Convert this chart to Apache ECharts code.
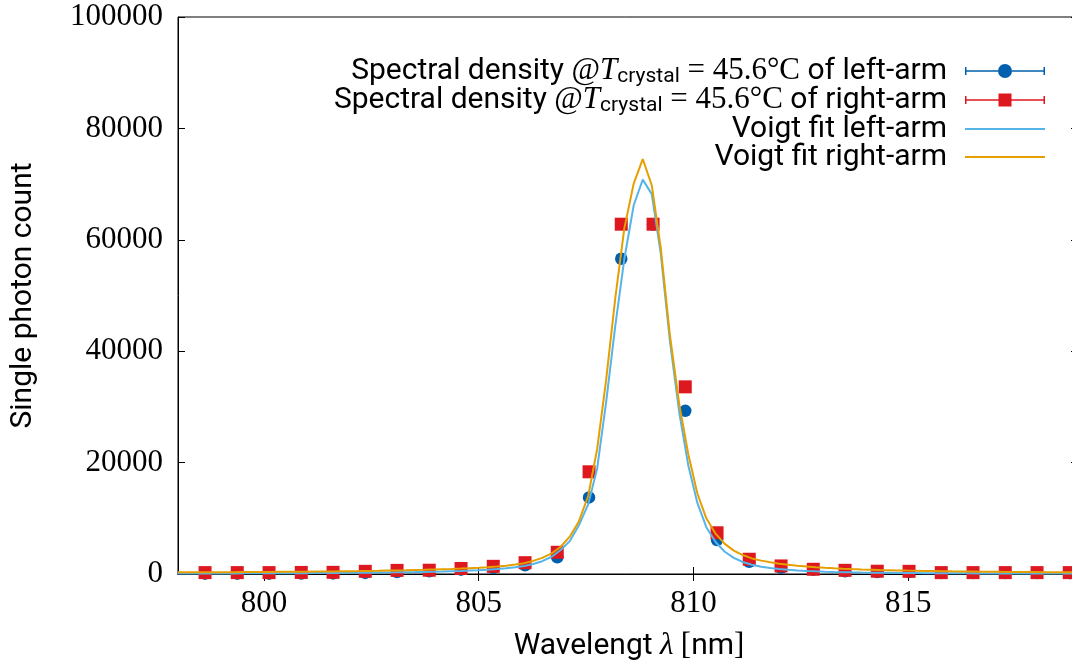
<!DOCTYPE html>
<html><head><meta charset="utf-8">
<script src="https://cdn.jsdelivr.net/npm/echarts@6/dist/echarts.min.js"></script>
<style>html,body{margin:0;padding:0;background:#fff}#c{width:1072px;height:671px}</style>
</head><body><div id="c"></div>
<script>
// measured data points (wavelength in nm)
const wavelength = [798.63,799.38,800.12,800.87,801.61,802.36,803.10,803.85,804.59,805.34,806.08,806.83,807.57,808.32,809.06,809.81,810.55,811.30,812.04,812.79,813.53,814.28,815.02,815.77,816.51,817.26,818.00,818.75];
const leftArm  = [60,60,60,80,100,200,350,480,780,1080,1560,3000,13750,56600,62750,29300,6100,2200,1130,780,480,360,360,180,180,180,180,180];
const rightArm = [250,250,250,280,300,480,650,680,990,1380,2030,3900,18350,62800,62800,33600,7400,2650,1450,850,660,500,480,250,250,250,250,250];
// Voigt fit curves as drawn (sampled)
const fitWavelength = [798.00,798.21,798.42,798.64,798.85,799.06,799.27,799.48,799.70,799.91,800.12,800.33,800.55,800.76,800.97,801.18,801.39,801.61,801.82,802.03,802.24,802.45,802.67,802.88,803.09,803.30,803.52,803.73,803.94,804.15,804.36,804.58,804.79,805.00,805.21,805.42,805.64,805.85,806.06,806.27,806.48,806.70,806.91,807.12,807.33,807.55,807.76,807.97,808.18,808.39,808.61,808.82,809.03,809.24,809.45,809.67,809.88,810.09,810.30,810.52,810.73,810.94,811.15,811.36,811.58,811.79,812.00,812.21,812.42,812.64,812.85,813.06,813.27,813.48,813.70,813.91,814.12,814.33,814.55,814.76,814.97,815.18,815.39,815.61,815.82,816.03,816.24,816.45,816.67,816.88,817.09,817.30,817.52,817.73,817.94,818.15,818.36,818.58,818.79,819.00];
const fitLeft = [90,92,95,98,100,105,110,115,120,125,130,135,140,150,155,165,175,185,195,210,225,240,255,275,295,320,345,375,410,450,500,550,610,680,770,880,1020,1200,1450,1800,2300,3100,4300,5900,8700,12500,19000,31000,44500,56500,66200,70800,68200,57500,42000,29000,19500,12800,8400,5700,4000,2900,2150,1650,1300,1070,890,750,640,550,480,420,375,335,300,270,245,225,205,190,175,165,155,145,137,130,123,117,111,106,101,97,93,90,87,84,81,78,76,74];
const fitRight = [300,305,310,315,320,330,335,345,355,365,375,385,395,410,420,435,450,470,490,510,530,555,580,610,640,670,710,750,800,850,900,970,1050,1130,1230,1350,1500,1700,1950,2350,2900,3700,4900,6700,9400,14000,22500,35000,49500,62000,70100,74500,69800,58500,43000,30500,21500,14500,10000,7200,5400,4200,3400,2800,2400,2100,1850,1650,1500,1350,1230,1130,1040,960,890,830,780,730,690,650,615,585,555,530,505,480,460,440,420,405,390,375,360,350,340,330,320,310,300,295];
const xTickValues = [800,805,810,815];
const seriesNames = ['leftData','rightData','leftFit','rightFit'];

const SANS = 'Roboto';
const SERIF = 'Liberation Serif';
const C_BLUE = '#0060ad', C_RED = '#dd181f', C_SKY = '#56b4e9', C_ORANGE = '#e69f00';

const zip = (a, b) => a.map((v, i) => [v, b[i]]);

const rich = {
  s: {fontFamily: SANS, fontSize: 30, color: '#000', lineHeight: 32},
  m: {fontFamily: SERIF, fontSize: 31, color: '#000', lineHeight: 32},
  i: {fontFamily: SERIF, fontStyle: 'italic', fontSize: 31, color: '#000', lineHeight: 32},
  sub: {fontFamily: SANS, fontSize: 21, color: '#000', lineHeight: 17, verticalAlign: 'bottom'},
  gap: {width: 13, lineHeight: 32}
};
const labels = {
  leftData: '{s|Spectral density }{m|@}{i|T}{sub|crystal}{m| = 45.6°C}{s| of left-arm}{gap|}',
  rightData: '{s|Spectral density }{m|@}{i|T}{sub|crystal}{m| = 45.6°C}{s| of right-arm}{gap|}',
  leftFit: '{s|Voigt fit left-arm}{gap|}',
  rightFit: '{s|Voigt fit right-arm}{gap|}'
};
const circIcon = 'path://M0 3H1.5V11H0Z M78.5 3H80V11H78.5Z M0 6.25H33V7.75H0Z M47 6.25H80V7.75H47Z M33 7A7 7 0 1 1 47 7A7 7 0 1 1 33 7Z';
const rectIcon = 'path://M0 3H1.5V11H0Z M78.5 3H80V11H78.5Z M0 6.25H33.5V7.75H0Z M46.5 6.25H80V7.75H46.5Z M33.5 0.5H46.5V13.5H33.5Z';
const lineIcon = 'path://M0 0H80V2H0Z';
const rowCenters = [71, 100, 129, 157];
const legendIcons = [circIcon, rectIcon, lineIcon, lineIcon];
const legendH = [14, 13, 2, 2];

const legends = seriesNames.map((n, i) => ({
  right: 27, top: rowCenters[i] - 16, padding: 0, orient: 'vertical', align: 'right',
  itemWidth: 80, itemHeight: legendH[i], selectedMode: false,
  data: [{name: n, icon: legendIcons[i]}],
  formatter: name => labels[name],
  textStyle: {rich: rich, lineHeight: 32}
}));

const chart = echarts.init(document.getElementById('c'), null, {renderer: 'canvas'});
chart.setOption({
  animation: false,
  backgroundColor: '#fff',
  legend: legends,
  grid: {left: 178, top: 17, width: 902, height: 557, outerBoundsMode: 'none', containLabel: false, show: true, borderColor: '#000', borderWidth: 1, backgroundColor: 'transparent'},
  xAxis: [{
    type: 'value', min: 798, max: 819, position: 'bottom',
    axisLine: {show: true, onZero: false, lineStyle: {color: '#000', width: 1}},
    axisTick: {show: true, inside: true, length: 7, customValues: xTickValues, lineStyle: {color: '#000'}},
    axisLabel: {customValues: xTickValues, formatter: v => String(v), fontFamily: SERIF, fontSize: 31, color: '#000', margin: 14},
    splitLine: {show: false},
    name: '{s|Wavelengt }{i|λ}{s| }{m|[}{s|nm}{m|]}', nameLocation: 'middle', nameGap: 56,
    nameTextStyle: {rich: rich}
  }, {
    type: 'value', min: 798, max: 819, position: 'top',
    axisLine: {show: true, lineStyle: {color: '#000'}},
    axisTick: {show: true, inside: true, length: 7, customValues: xTickValues, lineStyle: {color: '#000'}},
    axisLabel: {show: false}, splitLine: {show: false}
  }],
  yAxis: [{
    type: 'value', min: 0, max: 100000, interval: 20000, position: 'left',
    axisLine: {show: true, lineStyle: {color: '#000'}},
    axisTick: {show: true, inside: true, length: 7, lineStyle: {color: '#000'}},
    axisLabel: {formatter: v => String(v), fontFamily: SERIF, fontSize: 31, color: '#000', margin: 15},
    splitLine: {show: false},
    name: 'Single photon count', nameLocation: 'middle', nameGap: 140, nameRotate: 90,
    nameTextStyle: {fontFamily: SANS, fontSize: 30, color: '#000'}
  }, {
    type: 'value', min: 0, max: 100000, interval: 20000, position: 'right',
    axisLine: {show: true, lineStyle: {color: '#000'}},
    axisTick: {show: true, inside: true, length: 9, lineStyle: {color: '#000'}},
    axisLabel: {show: false}, splitLine: {show: false}
  }],
  series: [
    {name: 'leftData', type: 'scatter', data: zip(wavelength, leftArm), symbol: 'circle', symbolSize: 12.5, itemStyle: {color: C_BLUE, opacity: 1}, z: 2},
    {name: 'rightData', type: 'scatter', data: zip(wavelength, rightArm), symbol: 'rect', symbolSize: 13, itemStyle: {color: C_RED, opacity: 1}, z: 3},
    {name: 'leftFit', type: 'line', data: zip(fitWavelength, fitLeft), showSymbol: false, symbol: 'none', lineStyle: {color: C_SKY, width: 2}, itemStyle: {color: C_SKY}, z: 4},
    {name: 'rightFit', type: 'line', data: zip(fitWavelength, fitRight), showSymbol: false, symbol: 'none', lineStyle: {color: C_ORANGE, width: 2}, itemStyle: {color: C_ORANGE}, z: 5}
  ]
});
</script></body></html>
